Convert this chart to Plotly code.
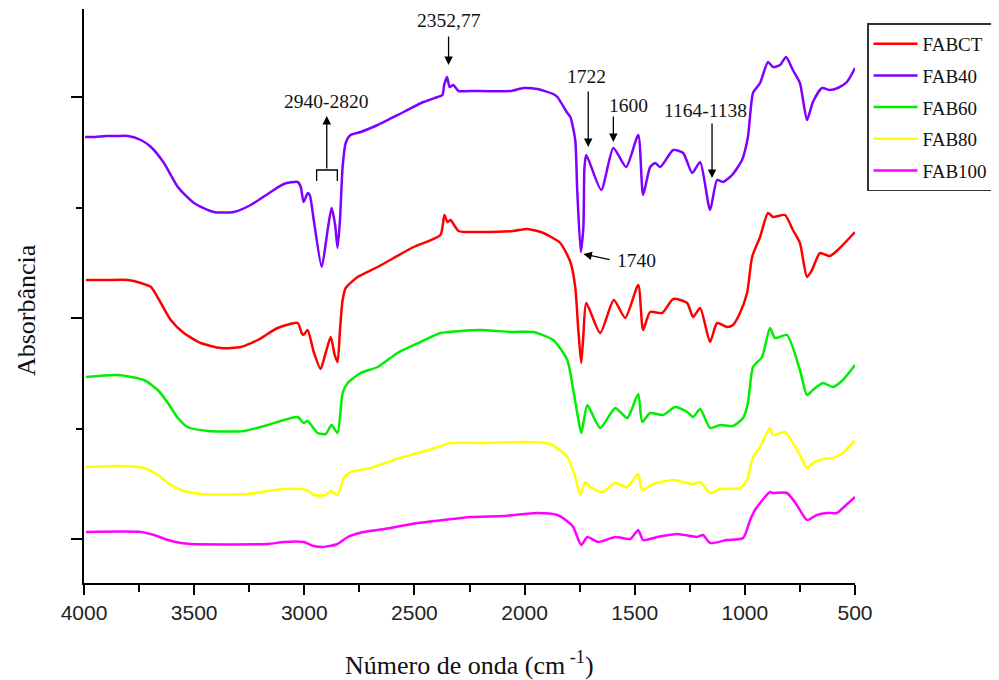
import plotly.graph_objects as go

# ---- data (wavenumber cm-1, offset absorbance a.u.) ----
wn_ct = [3991, 3900, 3800, 3742, 3696, 3651, 3606, 3547, 3470, 3379, 3288, 3211, 3121, 3030, 3012,
         3003, 2985, 2957, 2926, 2903, 2880, 2862, 2849, 2838, 2826, 2812, 2758, 2667, 2504, 2382,
         2364, 2350, 2336, 2300, 2200, 2051, 1987, 1915, 1838, 1792, 1770, 1756, 1743, 1733, 1720,
         1657, 1595, 1543, 1484, 1462, 1430, 1375, 1325, 1262, 1235, 1203, 1158, 1126, 1081, 1054,
         1022, 990, 967, 931, 895, 872, 818, 782, 750, 718, 695, 659, 614, 578, 500]
ab_ct = [303, 303, 303, 300, 296, 280, 263, 250, 240, 235, 236, 243, 255, 260, 250,
         248, 253, 231, 214, 230, 246, 228, 221, 253, 283, 295, 306, 316, 336, 348,
         368, 361, 363, 352, 351, 352, 354, 350, 340, 321, 296, 253, 220, 248, 280,
         250, 283, 265, 298, 253, 271, 270, 284, 280, 266, 275, 241, 260, 256, 258,
         270, 290, 326, 346, 370, 366, 368, 353, 340, 306, 313, 330, 327, 333, 351]

wn_40 = [3995, 3950, 3900, 3850, 3800, 3742, 3696, 3637, 3574, 3501, 3411, 3320, 3243, 3152, 3093,
         3030, 3016, 3003, 2984, 2975, 2957, 2921, 2894, 2876, 2860, 2849, 2838, 2826, 2812, 2790,
         2744, 2667, 2549, 2459, 2395, 2373, 2365, 2352, 2340, 2323, 2300, 2246, 2064, 2005, 1942,
         1870, 1851, 1806, 1792, 1770, 1761, 1745, 1733, 1728, 1720, 1652, 1597, 1539, 1484, 1462,
         1430, 1407, 1384, 1325, 1280, 1239, 1203, 1158, 1126, 1099, 1058, 1013, 986, 963, 931,
         895, 872, 840, 813, 782, 750, 718, 691, 650, 614, 578, 537, 500]
ab_40 = [446, 446, 447, 447, 447, 443, 436, 420, 396, 380, 371, 371, 378, 391, 399,
         401, 396, 381, 390, 388, 363, 316, 353, 375, 358, 335, 363, 416, 440, 448,
         451, 458, 471, 481, 486, 488, 498, 506, 496, 498, 492, 492, 492, 495, 494,
         489, 486, 470, 466, 443, 393, 331, 356, 416, 428, 393, 435, 416, 448, 388,
         416, 420, 416, 433, 430, 410, 421, 373, 403, 401, 408, 423, 446, 490, 500,
         521, 516, 518, 526, 513, 500, 463, 481, 495, 493, 495, 501, 515]

wn_60 = [3991, 3846, 3728, 3665, 3619, 3574, 3529, 3438, 3275, 3166, 3093, 3030, 3003, 2985, 2939,
         2903, 2876, 2849, 2826, 2803, 2744, 2667, 2577, 2472, 2382, 2291, 2200, 2051, 1960, 1870,
         1806, 1779, 1761, 1743, 1733, 1715, 1657, 1588, 1534, 1484, 1466, 1430, 1371, 1317, 1262,
         1235, 1203, 1158, 1112, 1054, 1008, 986, 963, 922, 886, 863, 809, 750, 718, 691,
         646, 600, 555, 500]
ab_60 = [206, 208, 203, 193, 180, 165, 156, 152, 152, 158, 163, 166, 160, 162, 150,
         149, 158, 150, 190, 200, 210, 216, 230, 241, 250, 252, 253, 251, 251, 243,
         223, 193, 170, 150, 160, 178, 155, 175, 165, 189, 161, 170, 168, 176, 171,
         166, 174, 155, 158, 157, 165, 180, 216, 226, 255, 245, 248, 213, 188, 193,
         200, 196, 203, 218]

wn_80 = [3991, 3846, 3728, 3665, 3619, 3560, 3470, 3257, 3166, 3093, 3016, 2980, 2957, 2903, 2880,
         2849, 2821, 2790, 2699, 2595, 2486, 2395, 2336, 2187, 2005, 1883, 1806, 1770, 1747, 1724,
         1702, 1647, 1588, 1534, 1484, 1466, 1416, 1325, 1235, 1203, 1158, 1112, 1022, 990, 963,
         931, 886, 872, 818, 782, 750, 718, 691, 646, 600, 555, 500]
ab_80 = [116, 117, 115, 108, 100, 93, 89, 89, 92, 94, 94, 92, 88, 88, 92,
         88, 105, 111, 115, 123, 130, 136, 140, 140, 141, 139, 126, 106, 88, 101,
         96, 91, 100, 96, 109, 93, 99, 103, 99, 101, 90, 94, 95, 103, 126,
         136, 155, 148, 151, 140, 128, 115, 120, 124, 125, 130, 143]

wn_100 = [3991, 3742, 3683, 3619, 3560, 3515, 3166, 3093, 3003, 2957, 2917, 2849, 2803, 2731, 2608,
          2486, 2368, 2246, 2096, 1942, 1851, 1802, 1779, 1743, 1715, 1666, 1588, 1520, 1484, 1462,
          1398, 1307, 1217, 1190, 1158, 1081, 1008, 976, 954, 886, 872, 809, 764, 718, 673,
          627, 582, 555, 500]
ab_100 = [51, 51, 48, 43, 40, 39, 39, 41, 41, 37, 36, 39, 46, 51, 55,
          60, 63, 66, 67, 70, 68, 61, 56, 38, 46, 41, 46, 44, 53, 43,
          46, 49, 46, 48, 40, 43, 45, 63, 73, 91, 90, 90, 78, 63, 68,
          70, 70, 75, 86]

series_names = ["FABCT", "FAB40", "FAB60", "FAB80", "FAB100"]
series_x = [wn_ct, wn_40, wn_60, wn_80, wn_100]
series_y = [ab_ct, ab_40, ab_60, ab_80, ab_100]
series_colors = ["#ff0000", "#8000ff", "#00ee00", "#ffff00", "#ff00ff"]

x_ticks = [4000, 3500, 3000, 2500, 2000, 1500, 1000, 500]

SERIF = "Liberation Serif, Times New Roman, serif"
SANS = "Liberation Sans, Arial, sans-serif"

fig = go.Figure()
for n, xs, ys, c in zip(series_names, series_x, series_y, series_colors):
    fig.add_trace(go.Scatter(x=xs, y=ys, mode="lines", name=n,
                             line=dict(color=c, width=2.5, shape="spline", smoothing=0.6),
                             legendgroup=n))

# the page body adds an 8 px margin, so the figure is sized 8 px smaller
fig.update_layout(
    width=991, height=672,
    margin=dict(l=76, r=144, t=1, b=97),
    paper_bgcolor="white", plot_bgcolor="white",
    showlegend=True,
    legend=dict(x=1.0156, y=0.975, xanchor="left", yanchor="top",
                bordercolor="#333333", borderwidth=1.5,
                font=dict(family=SERIF, size=19, color="#111111"),
                tracegroupgap=4, itemwidth=44),
    xaxis=dict(range=[4000, 500], tickvals=x_ticks, ticks="outside", ticklen=10, tickwidth=2,
               tickcolor="black", showline=True, linecolor="black", linewidth=2,
               showgrid=False, zeroline=False, mirror=False,
               tickfont=dict(family=SANS, size=21, color="#222222"),
               minor=dict(dtick=250, ticks="outside", ticklen=7, tickwidth=2, tickcolor="black",
                          showgrid=False)),
    yaxis=dict(range=[0, 574], tick0=44, dtick=221, ticks="outside", ticklen=11, tickwidth=2,
               tickcolor="black", showticklabels=False, showline=True, linecolor="black",
               linewidth=2, showgrid=False, zeroline=False,
               minor=dict(tick0=44, dtick=110.5, ticks="outside", ticklen=6, tickwidth=2,
                          tickcolor="black", showgrid=False)),
)

afont = dict(family=SERIF, size=19.5, color="#111111")
annots = []
# axis titles
annots.append(dict(text="Número de onda (cm<sup> -1</sup>)", xref="paper", yref="paper",
                   x=0.5006, y=-0.1410, showarrow=False, xanchor="center", yanchor="middle",
                   font=dict(family=SERIF, size=26, color="#111111")))
annots.append(dict(text="Absorbância", xref="paper", yref="paper", x=-0.0752, y=0.4756,
                   textangle=-90, showarrow=False, xanchor="center", yanchor="middle",
                   font=dict(family=SERIF, size=26, color="#111111")))
# peak labels
labels = [("2352,77", 2345, 563), ("2940-2820", 2898, 482), ("1722", 1720, 507),
          ("1600", 1530, 478), ("1164-1138", 1180, 473)]
for t, x, y in labels:
    annots.append(dict(text=t, x=x, y=y, xref="x", yref="y", showarrow=False, font=afont))
annots.append(dict(text="1740", x=1589, y=323, xref="x", yref="y", showarrow=False,
                   xanchor="left", font=afont))
# arrows: (head_x, head_y, tail_x, tail_y)
arrows = [(2345, 518, 2345, 548), (2898, 467, 2898, 413), (1711, 436, 1711, 493),
          (1597, 441, 1597, 468), (1149, 405, 1149, 461), (1733, 329, 1607, 323)]
for hx, hy, tx, ty in arrows:
    annots.append(dict(text="", x=hx, y=hy, ax=tx, ay=ty, xref="x", yref="y", axref="x", ayref="y",
                       showarrow=True, arrowhead=2, arrowsize=1.3, arrowwidth=1.3,
                       arrowcolor="black", standoff=0, startstandoff=0))
fig.update_layout(annotations=annots)

# bracket under the 2940-2820 arrow
fig.add_shape(type="path", xref="x", yref="y",
              path="M 2944 402 L 2944 413 L 2850 413 L 2850 402",
              line=dict(color="black", width=1.3))

fig.write_html("out.html")
